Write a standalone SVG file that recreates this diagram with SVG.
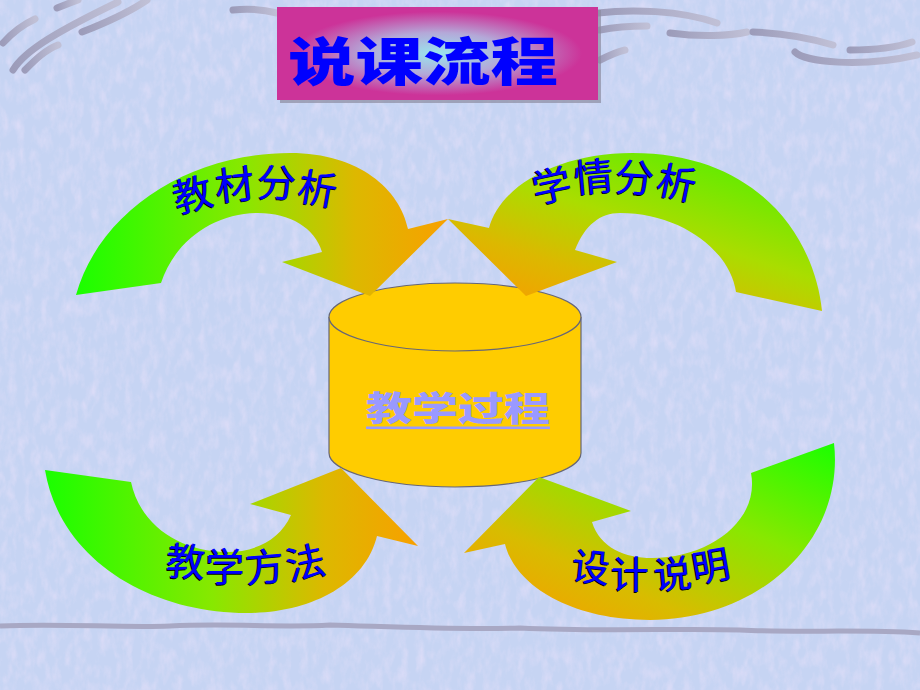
<svg xmlns="http://www.w3.org/2000/svg" width="920" height="690" viewBox="0 0 920 690">
<defs>
<style>
.deco{fill:none;stroke:url(#decoG);stroke-width:7;stroke-linecap:round}
.lbl{font-family:"Noto Sans CJK SC","Noto Sans CJK JP",sans-serif;font-size:39px;font-weight:400;text-anchor:middle}
.sh{fill:#000}
.fg{fill:#0000ff}
.cyl{fill:#ffcc00;stroke:#666677;stroke-width:1.2}
</style>
<linearGradient id="decoG" x1="0" y1="0" x2="1" y2="0">
<stop offset="0" stop-color="#9c9cba"/><stop offset="1" stop-color="#c0c0d6"/>
</linearGradient>
<radialGradient id="titleG" cx="0.5" cy="0.5" r="0.5">
<stop offset="0" stop-color="#99e4ee"/><stop offset="0.45" stop-color="#b4a8d8"/><stop offset="0.9" stop-color="#cc3399"/>
</radialGradient>
<linearGradient id="g1" x1="0" y1="0" x2="1" y2="0">
<stop offset="0" stop-color="#1aff00"/><stop offset="0.45" stop-color="#88e800"/><stop offset="0.75" stop-color="#ddb800"/><stop offset="1" stop-color="#f8a000"/>
</linearGradient>
<linearGradient id="g2" x1="0.85" y1="0.05" x2="0.15" y2="0.95">
<stop offset="0" stop-color="#55ee00"/><stop offset="0.45" stop-color="#aadd00"/><stop offset="0.75" stop-color="#dcb800"/><stop offset="1" stop-color="#f5a000"/>
</linearGradient>
<linearGradient id="g4" x1="1" y1="0" x2="0.1" y2="0.95">
<stop offset="0" stop-color="#1aff00"/><stop offset="0.4" stop-color="#88e800"/><stop offset="0.75" stop-color="#d8bc00"/><stop offset="1" stop-color="#f5a000"/>
</linearGradient>
<filter id="noise" x="0" y="0" width="100%" height="100%">
<feTurbulence type="fractalNoise" baseFrequency="0.12 0.06" numOctaves="3" seed="4"/>
<feColorMatrix type="matrix" values="0 0 0 0 0.88  0 0 0 0 0.78  0 0 0 0 0.97  1.4 -0.7 0 0 -0.2"/>
</filter>
</defs>

<g id="background">
<rect width="920" height="690" fill="#c6d4f3"/>
<rect width="920" height="690" filter="url(#noise)" opacity="0.55"/>
<path class="deco" d="M3,43 C12,33 22,25 35,19"/>
<path class="deco" d="M13,70 C25,50 60,30 118,2"/>
<path class="deco" d="M57,8 C65,5 72,2 78,0"/>
<path class="deco" d="M82,32 C100,25 125,15 147,0"/>
<path class="deco" d="M25,70 C35,60 45,50 58,45"/>
<path class="deco" d="M233,10 C250,8 265,10 277,13"/>
<path class="deco" d="M598,13 C630,9 680,10 717,23"/>
<path class="deco" d="M600,30 C615,27 630,26 647,26"/>
<path class="deco" d="M670,33 C700,37 730,36 747,32"/>
<path class="deco" d="M753,32 C780,33 810,38 833,45"/>
<path class="deco" d="M795,52 C805,62 860,68 917,55"/>
<path class="deco" d="M850,50 C870,50 895,48 912,42"/>
<path class="deco" d="M600,60 C608,56 616,52 625,50"/>
<path d="M0,626 C60,623 120,628 170,626 C230,623 280,628 330,625 C400,627 460,630 520,628 C600,632 680,628 740,630 C800,633 860,629 920,633" fill="none" stroke="#a8a8c4" stroke-width="5"/>
</g>

<g id="title">
<rect x="280" y="10" width="321" height="93" fill="#8c8ca0" opacity="0.7"/>
<rect x="277" y="7" width="321" height="93" fill="url(#titleG)"/>
<text x="288" y="81" textLength="270" lengthAdjust="spacingAndGlyphs" font-family="'Noto Sans CJK SC','Noto Sans CJK JP',sans-serif" font-weight="900" font-size="52" fill="#0000ff">说课流程</text>
</g>

<g id="center-cylinder">
<path class="cyl" d="M329,317 L329,453 A126,34 0 0 0 581,453 L581,317"/>
<ellipse class="cyl" cx="455" cy="317" rx="126" ry="34"/>
<text x="366" y="421" textLength="184" lengthAdjust="spacingAndGlyphs" font-family="'Noto Sans CJK SC','Noto Sans CJK JP',sans-serif" font-weight="900" font-size="34" fill="#9999ff">教学过程</text>
<rect x="366" y="426.5" width="184" height="2.6" fill="#9999ff"/>
</g>

<g id="connectors">
<g id="arrow-jiaocai">
<path fill="url(#g1)" d="M76,295 C100,210 190,153 290,153 C360,153 400,190 408,229 L448,219 L370,296 L282,262 L322,252 C315,228 290,213 258,213 C215,213 175,240 161,283 Z"/>
<g class="lbl">
<g class="sh" transform="translate(-1.2,0.8)">
<text x="193" y="209" transform="rotate(-14 193 195)">教</text>
<text x="235" y="199" transform="rotate(-6 235 185)">材</text>
<text x="277" y="197" transform="rotate(2 277 183)">分</text>
<text x="318" y="203" transform="rotate(10 318 189)">析</text>
</g>
<g class="fg">
<text x="193" y="209" transform="rotate(-14 193 195)">教</text>
<text x="235" y="199" transform="rotate(-6 235 185)">材</text>
<text x="277" y="197" transform="rotate(2 277 183)">分</text>
<text x="318" y="203" transform="rotate(10 318 189)">析</text>
</g>
</g>
</g>
<g id="arrow-xueqing">
<path fill="url(#g2)" d="M822,311 C815,240 760,153 632,153 C560,153 500,185 489,228 L448,219 L526,296 L617,262 L575,250 C585,225 600,213 620,213 C680,213 730,250 736,292 Z"/>
<g class="lbl">
<g class="sh" transform="translate(-1.2,0.8)">
<text x="552" y="200" transform="rotate(-12 552 186)">学</text>
<text x="594" y="191" transform="rotate(-5 594 177)">情</text>
<text x="635" y="192" transform="rotate(4 635 178)">分</text>
<text x="677" y="197" transform="rotate(12 677 183)">析</text>
</g>
<g class="fg">
<text x="552" y="200" transform="rotate(-12 552 186)">学</text>
<text x="594" y="191" transform="rotate(-5 594 177)">情</text>
<text x="635" y="192" transform="rotate(4 635 178)">分</text>
<text x="677" y="197" transform="rotate(12 677 183)">析</text>
</g>
</g>
</g>
<g id="arrow-jiaoxue">
<path fill="url(#g1)" d="M45,470 C60,560 150,613 247,613 C310,613 365,585 377,536 L418,546 L341,468 L250,504 L291,515 C280,540 255,552 227,552 C180,552 140,525 131,482 Z"/>
<g class="lbl">
<g class="sh" transform="translate(-1.2,0.8)">
<text x="186" y="576" transform="rotate(4 186 562)">教</text>
<text x="225" y="581" transform="rotate(0 225 567)">学</text>
<text x="265" y="581" transform="rotate(-5 265 567)">方</text>
<text x="306" y="577" transform="rotate(-12 306 563)">法</text>
</g>
<g class="fg">
<text x="186" y="576" transform="rotate(4 186 562)">教</text>
<text x="225" y="581" transform="rotate(0 225 567)">学</text>
<text x="265" y="581" transform="rotate(-5 265 567)">方</text>
<text x="306" y="577" transform="rotate(-12 306 563)">法</text>
</g>
</g>
</g>
<g id="arrow-sheji">
<path fill="url(#g4)" d="M834,443 C845,540 760,620 650,620 C570,620 515,585 505,544 L464,553 L539,477 L631,511 L592,522 C600,548 625,558 652,558 C710,558 760,520 751,473 Z"/>
<g class="lbl" style="font-size:38px">
<g class="sh" transform="translate(-1.2,0.8)">
<text x="591" y="581" transform="rotate(6 591 567)">设</text>
<text x="630" y="588" transform="rotate(0 630 574)">计</text>
<text x="673" y="588" transform="rotate(-5 673 574)">说</text>
<text x="711" y="580" transform="rotate(-10 711 566)">明</text>
</g>
<g class="fg">
<text x="591" y="581" transform="rotate(6 591 567)">设</text>
<text x="630" y="588" transform="rotate(0 630 574)">计</text>
<text x="673" y="588" transform="rotate(-5 673 574)">说</text>
<text x="711" y="580" transform="rotate(-10 711 566)">明</text>
</g>
</g>
</g>
</g>
</svg>
